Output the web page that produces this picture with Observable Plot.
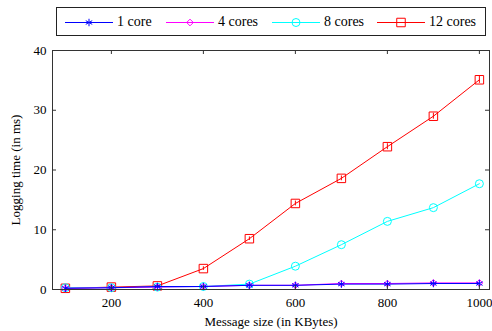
<!DOCTYPE html>
<html>
<head>
<meta charset="utf-8">
<script src="https://cdn.jsdelivr.net/npm/d3@7"></script>
<script src="https://cdn.jsdelivr.net/npm/@observablehq/plot@0.6"></script>
<style>
  html, body { margin: 0; padding: 0; background: #fff; }
  #wrap { position: relative; width: 492px; height: 331px; font-family: "Liberation Serif", "DejaVu Serif", serif; }
  #legend { position: absolute; left: 56px; top: 7px; width: 430px; height: 29px; border: 1px solid #222; background: #fff; box-sizing: border-box; }
  .entry { position: absolute; top: 0; height: 27px; display: flex; align-items: center; font-size: 14px; color: #000; }
  .entry svg { display: block; margin-right: 4px; }
  svg text { font-family: "Liberation Serif", "DejaVu Serif", serif; }
</style>
</head>
<body>
<div id="wrap"><div id="chart"></div><div id="legend"></div></div>
<script>
const sizes = [100, 200, 300, 400, 500, 600, 700, 800, 900, 1000];
const core1  = [0.2, 0.3, 0.5, 0.5, 0.7, 0.7, 0.9, 0.9, 1.0, 1.0];
const core4  = [0.2, 0.3, 0.4, 0.5, 0.7, 0.7, 1.0, 1.0, 1.1, 1.1];
const core8  = [0.3, 0.3, 0.4, 0.5, 0.9, 3.9, 7.5, 11.4, 13.7, 17.7];
const core12 = [0.2, 0.4, 0.6, 3.5, 8.5, 14.4, 18.6, 23.9, 29.0, 35.1];
const err12  = [0.2, 0.2, 0.2, 0.3, 0.3, 0.4, 0.4, 0.5, 0.5, 0.6];
const seriesNames = ["1 core", "4 cores", "8 cores", "12 cores"];
const seriesColors = ["#0000ff", "#ff00ff", "#00ffff", "#ff0000"];
const seriesSymbols = ["asterisk", "diamond2", "circle", "square"];
const seriesR = [3.5, 3, 4, 4.8];
const xTicks = [200, 400, 600, 800, 1000];
const yTicks = [0, 10, 20, 30, 40];

const W = 492, H = 331, mL = 52, mR = 3, mT = 50, mB = 42, tick = 4;
const innerW = W - mL - mR, innerH = H - mT - mB;
const fontStack = "'Liberation Serif', 'DejaVu Serif', serif";

const allValues = [core1, core4, core8, core12];
const rows = [];
allValues.forEach((vals, s) => vals.forEach((v, i) => rows.push({series: seriesNames[s], size: sizes[i], time: v, err: s === 3 ? err12[i] : 0})));

const order = [3, 2, 1, 0];
const marks = [];
for (const s of order) {
  const d = rows.filter(r => r.series === seriesNames[s]);
  marks.push(Plot.line(d, {x: "size", y: "time", stroke: seriesColors[s], strokeWidth: 1}));
  if (s === 3) {
    marks.push(Plot.ruleX(d, {x: "size", y1: r => r.time - r.err, y2: r => r.time + r.err, stroke: seriesColors[s], strokeWidth: 1}));
  }
  marks.push(Plot.dot(d, {x: "size", y: "time", symbol: () => seriesSymbols[s], r: seriesR[s], stroke: seriesColors[s], fill: s === 0 ? seriesColors[s] : "none", strokeWidth: 1}));
}

const axisColor = "#333";
const chart = Plot.plot({
  width: W,
  height: H,
  marginLeft: mL,
  marginRight: mR,
  marginTop: mT,
  marginBottom: mB,
  style: {fontFamily: fontStack, fontSize: "14px", color: "#000", background: "#fff", overflow: "visible"},
  x: {domain: [72, 1022]},
  y: {domain: [0, 40]},
  symbol: {type: "identity"},
  marks: [
    ...marks,
    Plot.frame({stroke: axisColor, strokeWidth: 1}),
    Plot.ruleX(xTicks, {x: d => d, insetTop: innerH - tick, stroke: axisColor}),
    Plot.ruleX(xTicks, {x: d => d, insetBottom: innerH - tick, stroke: axisColor}),
    Plot.ruleY(yTicks, {y: d => d, insetRight: innerW - tick, stroke: axisColor}),
    Plot.ruleY(yTicks, {y: d => d, insetLeft: innerW - tick, stroke: axisColor}),
    Plot.axisX(xTicks, {anchor: "bottom", tickSize: 0, tickPadding: 8, fontSize: 13, tickFormat: d => String(d), label: "Message size (in KBytes)", labelAnchor: "center", labelOffset: 36, labelArrow: "none"}),
    Plot.axisY(yTicks, {anchor: "left", tickSize: 0, tickPadding: 6, fontSize: 13, label: "Logging time (in ms)", labelAnchor: "center", labelOffset: 42, labelArrow: "none"})
  ]
});
document.getElementById("chart").appendChild(chart);

// legend
const legend = document.getElementById("legend");
const entryLeft = [8, 109, 215, 320];
const d3Sym = {asterisk: d3.symbolAsterisk, diamond2: d3.symbolDiamond2, circle: d3.symbolCircle, square: d3.symbolSquare};
seriesNames.forEach((name, s) => {
  const div = document.createElement("div");
  div.className = "entry";
  div.style.left = entryLeft[s] + "px";
  const ns = "http://www.w3.org/2000/svg";
  const svg = document.createElementNS(ns, "svg");
  svg.setAttribute("width", 48);
  svg.setAttribute("height", 14);
  const line = document.createElementNS(ns, "line");
  line.setAttribute("x1", 0); line.setAttribute("x2", 48);
  line.setAttribute("y1", 7.5); line.setAttribute("y2", 7.5);
  line.setAttribute("stroke", seriesColors[s]);
  svg.appendChild(line);
  const p = document.createElementNS(ns, "path");
  p.setAttribute("d", d3.symbol(d3Sym[seriesSymbols[s]], Math.PI * seriesR[s] * seriesR[s])());
  p.setAttribute("transform", "translate(24,7.5)");
  p.setAttribute("stroke", seriesColors[s]);
  p.setAttribute("fill", s === 0 ? seriesColors[s] : "none");
  svg.appendChild(p);
  div.appendChild(svg);
  div.appendChild(document.createTextNode(name));
  legend.appendChild(div);
});
</script>
</body>
</html>
